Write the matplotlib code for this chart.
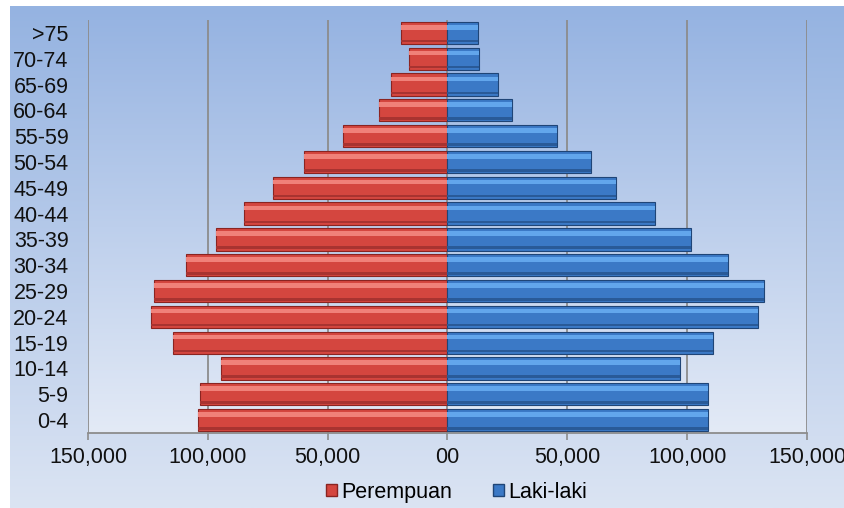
import numpy as np
import matplotlib.pyplot as plt
from matplotlib.patches import Patch
from matplotlib.colors import LinearSegmentedColormap

plt.rcParams['font.family'] = ['Liberation Sans', 'DejaVu Sans']

# age groups, bottom to top
groups = ["0-4", "5-9", "10-14", "15-19", "20-24", "25-29", "30-34", "35-39",
          "40-44", "45-49", "50-54", "55-59", "60-64", "65-69", "70-74", ">75"]
perempuan = [104000, 103200, 94600, 114500, 123900, 122500, 109000, 96700,
             85000, 72900, 60000, 43700, 28700, 23700, 16100, 19600]
laki = [108500, 108500, 97100, 110800, 129600, 132000, 117100, 101700,
        86700, 70400, 59700, 45700, 26800, 21100, 13200, 12900]
xticks = [-150000, -100000, -50000, 0, 50000, 100000, 150000]
xlabels = ["150,000", "100,000", "50,000", "00", "50,000", "100,000", "150,000"]

fig = plt.figure(figsize=(8.45, 5.08), dpi=100)

# chart area gradient background
bg = fig.add_axes([10 / 845, 0, 835 / 845, 502 / 508])
grad = np.linspace(0, 1, 256).reshape(-1, 1)
cm_bg = LinearSegmentedColormap.from_list("bg", ["#dbe4f3", "#95b3e1"])
bg.imshow(grad, aspect="auto", cmap=cm_bg, origin="lower", extent=[0, 1, 0, 1])
bg.axis("off")

ax = fig.add_axes([88 / 845, 75 / 508, 719 / 845, 413 / 508])
cm_pl = LinearSegmentedColormap.from_list("pl", ["#e3eaf6", "#97b4e2"])
ax.imshow(grad, aspect="auto", cmap=cm_pl, origin="lower",
          extent=[-150000, 150000, -0.5, 15.5], zorder=0)

y = np.arange(len(groups))
fem = -np.array(perempuan)
mal = np.array(laki)
h = 0.86

# female bars with shading layers
ax.barh(y, fem, height=h, color="#d4463f", edgecolor="#8a2421", linewidth=0.8, zorder=3)
ax.barh(y + 0.22, fem, height=0.18, color="#f08179", linewidth=0, zorder=4)
ax.barh(y - 0.32, fem, height=0.1, color="#a83330", linewidth=0, zorder=4)

# male bars with shading layers
ax.barh(y, mal, height=h, color="#3b79c6", edgecolor="#1f4577", linewidth=0.8, zorder=3)
ax.barh(y + 0.22, mal, height=0.18, color="#62a6ec", linewidth=0, zorder=4)
ax.barh(y - 0.32, mal, height=0.1, color="#295a98", linewidth=0, zorder=4)

ax.set_xlim(-150000, 150000)
ax.set_ylim(-0.5, 15.5)
ax.set_xticks(xticks)
ax.set_xticklabels(xlabels)
ax.set_yticks(y)
ax.set_yticklabels(groups)
ax.tick_params(axis="y", length=0, pad=14, labelsize=15.5, labelcolor="#111111")
ax.tick_params(axis="x", length=5, width=1.2, color="#8c8c8c", pad=5,
               labelsize=15.5, labelcolor="#111111", direction="out")

for xv in xticks:
    ax.axvline(xv, color="#8c8c8c", linewidth=1.3, zorder=1)

for side in ["top", "right", "left"]:
    ax.spines[side].set_visible(False)
ax.spines["bottom"].set_color("#8c8c8c")
ax.spines["bottom"].set_linewidth(1.3)
ax.set_facecolor("none")

handles = [Patch(facecolor="#d4463f", edgecolor="#8a2421", label="Perempuan"),
           Patch(facecolor="#3b79c6", edgecolor="#1f4577", label="Laki-laki")]
fig.legend(handles=handles, loc="lower center", bbox_to_anchor=(0.54, -0.028),
           ncol=2, frameon=False, fontsize=15.5, handlelength=0.5,
           handleheight=0.5, handletextpad=0.2, columnspacing=1.9)

fig.savefig("out.png", dpi=100)
